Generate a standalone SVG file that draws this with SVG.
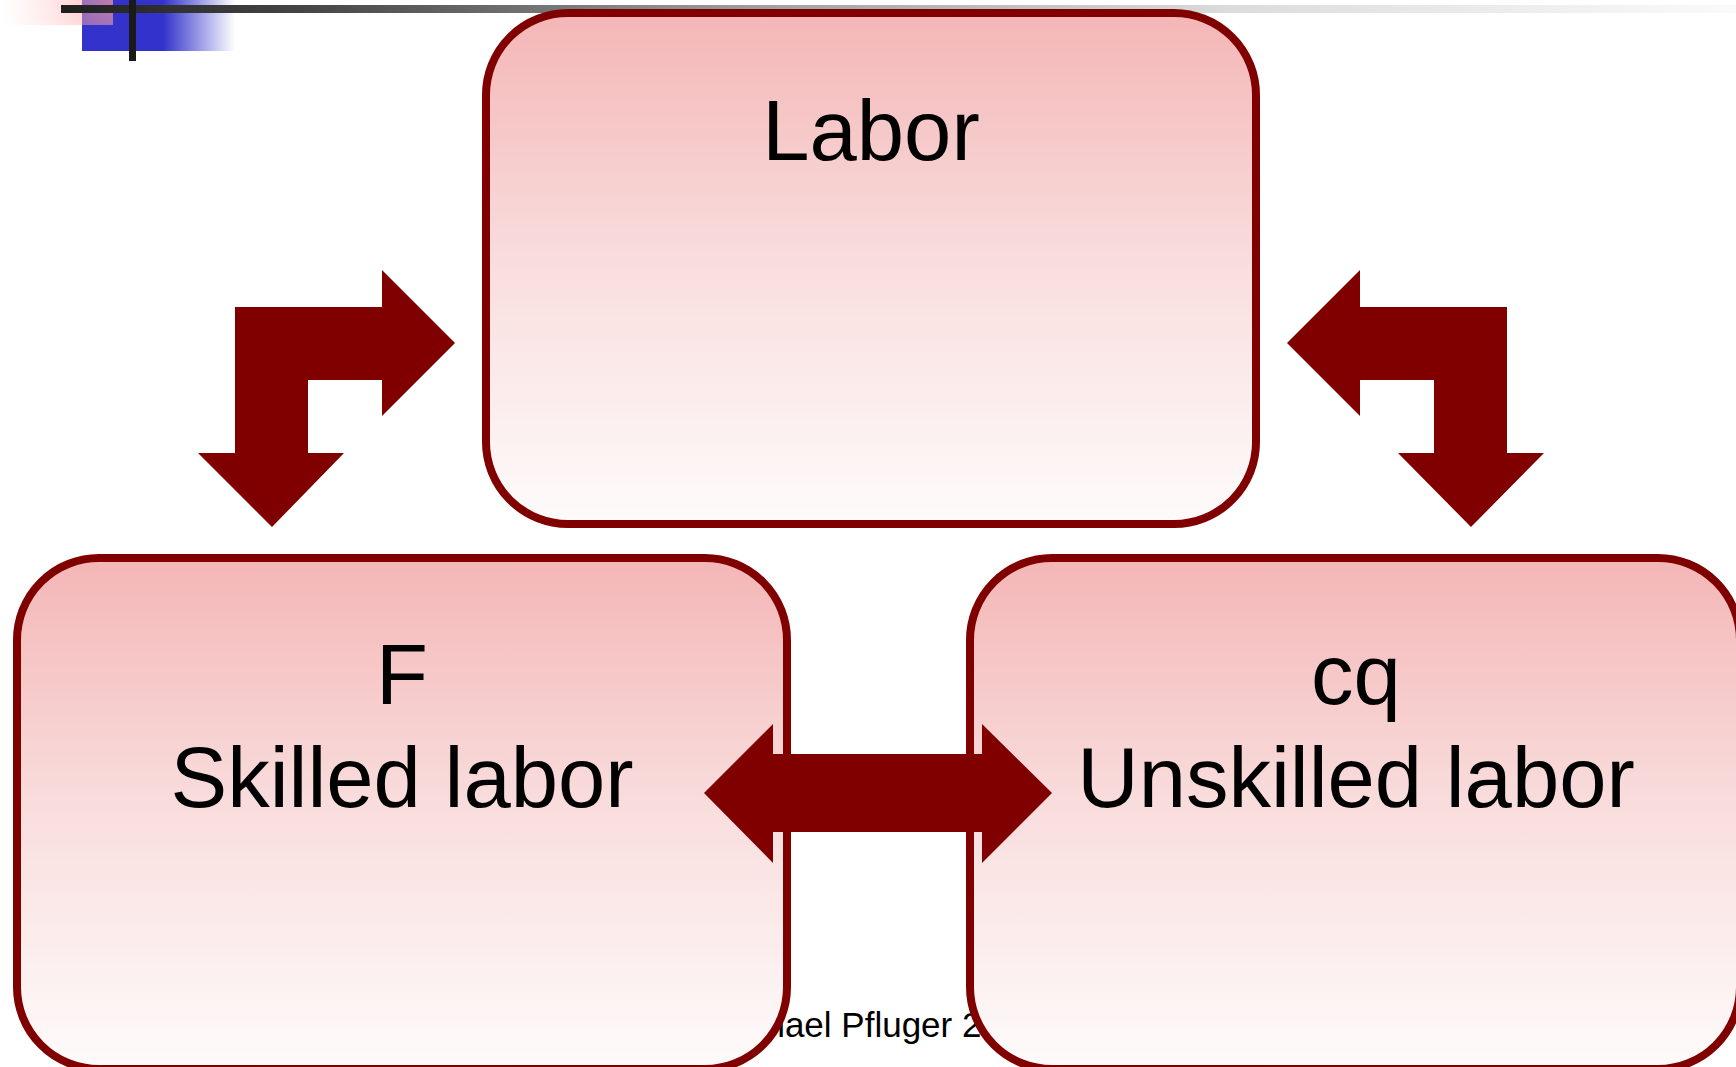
<svg xmlns="http://www.w3.org/2000/svg" width="1736" height="1067" viewBox="0 0 1736 1067">
<defs>
<linearGradient id="boxfill" x1="0" y1="0" x2="0" y2="1">
<stop offset="0" stop-color="#F4B6B6"/>
<stop offset="0.5" stop-color="#F9DEDE"/>
<stop offset="1" stop-color="#FEFBFB"/>
</linearGradient>
<linearGradient id="hline" x1="61" y1="0" x2="1736" y2="0" gradientUnits="userSpaceOnUse">
<stop offset="0" stop-color="#1E1E1E"/>
<stop offset="0.14" stop-color="#444444"/>
<stop offset="0.42" stop-color="#A0A0A0"/>
<stop offset="0.7" stop-color="#DCDCDC"/>
<stop offset="1" stop-color="#FAFAFA"/>
</linearGradient>
<linearGradient id="blue" x1="82" y1="0" x2="235" y2="0" gradientUnits="userSpaceOnUse">
<stop offset="0" stop-color="#3333CC"/>
<stop offset="0.53" stop-color="#3333CC"/>
<stop offset="1" stop-color="#3333CC" stop-opacity="0"/>
</linearGradient>
<radialGradient id="pink" cx="113" cy="0" r="115" gradientUnits="userSpaceOnUse">
<stop offset="0" stop-color="#FF9A9A" stop-opacity="0.7"/>
<stop offset="1" stop-color="#FFD0D0" stop-opacity="0"/>
</radialGradient>
</defs>
<style>
.box{fill:url(#boxfill);stroke:#800000;stroke-width:8}
.arrow{fill:#800000}
.big{font-family:"Liberation Sans",Arial,sans-serif;font-size:85px;fill:#000;text-anchor:middle}
.foot{font-family:"Liberation Sans",Arial,sans-serif;font-size:35px;fill:#000}
</style>
<rect x="0" y="0" width="1736" height="1067" fill="#FFFFFF"/>
<g id="decoration">
<rect x="82" y="0" width="153" height="51" fill="url(#blue)"/>
<rect x="0" y="0" width="113" height="25" fill="url(#pink)"/>
<rect x="61" y="5" width="1675" height="8" fill="url(#hline)"/>
<rect x="129" y="0" width="7" height="61" fill="#1A1A1A"/>
</g>
<text class="foot" x="711" y="1037">Michael Pfluger 2</text>
<g id="labor">
<rect class="box" x="486" y="13" width="770" height="511" rx="82" ry="82"/>
<text class="big" x="871" y="160">Labor</text>
</g>
<g id="skilled">
<rect class="box" x="17" y="558" width="770" height="511" rx="82" ry="82"/>
<text class="big" x="402" y="704">F</text>
<text class="big" x="402" y="807">Skilled labor</text>
</g>
<g id="unskilled">
<rect class="box" x="970" y="558" width="770" height="511" rx="82" ry="82"/>
<text class="big" x="1356" y="704">cq</text>
<text class="big" x="1356" y="807">Unskilled labor</text>
</g>
<g id="connectors">
<polygon class="arrow" points="235,453 198,453 272,527 344,453 308,453 308,380 382,380 382,416 455,343 382,270 382,307 235,307"/>
<polygon class="arrow" points="1507,453 1544,453 1471,527 1398,453 1434,453 1434,380 1360,380 1360,416 1287,343 1360,270 1360,307 1507,307"/>
<polygon class="arrow" points="704,793 773,724 773,754 982,754 982,724 1052,793 982,863 982,832 773,832 773,863"/>
</g>
</svg>
